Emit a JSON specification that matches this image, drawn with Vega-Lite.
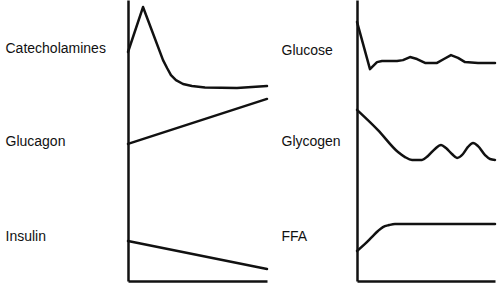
{
  "$schema": "https://vega.github.io/schema/vega-lite/v6.json",
  "padding": {"left": 5, "top": 0, "right": 0, "bottom": 4},
  "autosize": {"type": "pad"},
  "background": "white",
  "spacing": 12,
  "config": {
    "view": {"stroke": null},
    "axis": {
      "grid": false,
      "ticks": false,
      "title": null,
      "domainColor": "#111111",
      "domainWidth": 2.5,
      "labelFont": "Liberation Sans",
      "labelFontSize": 14,
      "labelColor": "#111111",
      "labelOverlap": false,
      "labelBound": false,
      "labelFlush": false
    }
  },
  "datasets": {
    "curves": [
      {"panel": "left", "series": "Catecholamines", "t": 0, "v": 81.5},
      {"panel": "left", "series": "Catecholamines", "t": 1.08, "v": 97.5},
      {"panel": "left", "series": "Catecholamines", "t": 2.52, "v": 78.6},
      {"panel": "left", "series": "Catecholamines", "t": 2.81, "v": 75.8},
      {"panel": "left", "series": "Catecholamines", "t": 3.09, "v": 73.3},
      {"panel": "left", "series": "Catecholamines", "t": 3.45, "v": 71.5},
      {"panel": "left", "series": "Catecholamines", "t": 3.96, "v": 70.1},
      {"panel": "left", "series": "Catecholamines", "t": 4.6, "v": 69.4},
      {"panel": "left", "series": "Catecholamines", "t": 5.54, "v": 68.9},
      {"panel": "left", "series": "Catecholamines", "t": 7.84, "v": 68.7},
      {"panel": "left", "series": "Catecholamines", "t": 10, "v": 69.4},
      {"panel": "left", "series": "Glucagon", "t": 0, "v": 48.8},
      {"panel": "left", "series": "Glucagon", "t": 10, "v": 64.8},
      {"panel": "left", "series": "Insulin", "t": 0, "v": 14.2},
      {"panel": "left", "series": "Insulin", "t": 10, "v": 4.3},
      {"panel": "right", "series": "Glucose", "t": 0, "v": 92.2},
      {"panel": "right", "series": "Glucose", "t": 0.94, "v": 75.4},
      {"panel": "right", "series": "Glucose", "t": 1.45, "v": 77.9},
      {"panel": "right", "series": "Glucose", "t": 1.81, "v": 78.3},
      {"panel": "right", "series": "Glucose", "t": 2.9, "v": 78.3},
      {"panel": "right", "series": "Glucose", "t": 3.33, "v": 78.6},
      {"panel": "right", "series": "Glucose", "t": 3.84, "v": 79.7},
      {"panel": "right", "series": "Glucose", "t": 4.35, "v": 79.0},
      {"panel": "right", "series": "Glucose", "t": 4.93, "v": 77.6},
      {"panel": "right", "series": "Glucose", "t": 5.8, "v": 77.6},
      {"panel": "right", "series": "Glucose", "t": 6.3, "v": 79.0},
      {"panel": "right", "series": "Glucose", "t": 6.81, "v": 80.4},
      {"panel": "right", "series": "Glucose", "t": 7.32, "v": 79.4},
      {"panel": "right", "series": "Glucose", "t": 7.83, "v": 77.9},
      {"panel": "right", "series": "Glucose", "t": 8.77, "v": 77.6},
      {"panel": "right", "series": "Glucose", "t": 10, "v": 77.6},
      {"panel": "right", "series": "Glycogen", "t": 0, "v": 60.9},
      {"panel": "right", "series": "Glycogen", "t": 1.52, "v": 53.7},
      {"panel": "right", "series": "Glycogen", "t": 2.97, "v": 45.9},
      {"panel": "right", "series": "Glycogen", "t": 3.48, "v": 44.1},
      {"panel": "right", "series": "Glycogen", "t": 3.99, "v": 43.1},
      {"panel": "right", "series": "Glycogen", "t": 4.71, "v": 43.1},
      {"panel": "right", "series": "Glycogen", "t": 5.14, "v": 44.5},
      {"panel": "right", "series": "Glycogen", "t": 5.65, "v": 47.0},
      {"panel": "right", "series": "Glycogen", "t": 6.09, "v": 48.4},
      {"panel": "right", "series": "Glycogen", "t": 6.45, "v": 47.3},
      {"panel": "right", "series": "Glycogen", "t": 6.88, "v": 45.2},
      {"panel": "right", "series": "Glycogen", "t": 7.25, "v": 43.8},
      {"panel": "right", "series": "Glycogen", "t": 7.68, "v": 45.2},
      {"panel": "right", "series": "Glycogen", "t": 8.04, "v": 47.7},
      {"panel": "right", "series": "Glycogen", "t": 8.41, "v": 49.1},
      {"panel": "right", "series": "Glycogen", "t": 8.77, "v": 48.0},
      {"panel": "right", "series": "Glycogen", "t": 9.28, "v": 44.8},
      {"panel": "right", "series": "Glycogen", "t": 9.64, "v": 43.4},
      {"panel": "right", "series": "Glycogen", "t": 10, "v": 43.1},
      {"panel": "right", "series": "FFA", "t": 0, "v": 10.7},
      {"panel": "right", "series": "FFA", "t": 0.58, "v": 13.2},
      {"panel": "right", "series": "FFA", "t": 1.09, "v": 15.7},
      {"panel": "right", "series": "FFA", "t": 1.52, "v": 17.8},
      {"panel": "right", "series": "FFA", "t": 1.88, "v": 19.2},
      {"panel": "right", "series": "FFA", "t": 2.32, "v": 19.9},
      {"panel": "right", "series": "FFA", "t": 2.75, "v": 20.3},
      {"panel": "right", "series": "FFA", "t": 10, "v": 20.3}
    ]
  },
  "hconcat": [
    {
      "width": 139,
      "height": 281,
      "data": {"name": "curves"},
      "transform": [{"filter": "datum.panel === 'left'"}],
      "mark": {"type": "line", "color": "#111111", "strokeWidth": 2.5, "strokeCap": "round", "strokeJoin": "round"},
      "encoding": {
        "x": {"field": "t", "type": "quantitative", "scale": {"domain": [0, 10], "nice": false, "zero": false},
              "axis": {"labels": false}},
        "y": {"field": "v", "type": "quantitative", "scale": {"domain": [0, 100], "nice": false},
              "axis": {"values": [82.6, 49.8, 15.7], "labelAlign": "left", "labelPadding": 123,
                       "labelExpr": "datum.value > 70 ? 'Catecholamines' : datum.value > 30 ? 'Glucagon' : 'Insulin'"}},
        "detail": {"field": "series"}
      }
    },
    {
      "width": 138,
      "height": 281,
      "data": {"name": "curves"},
      "transform": [{"filter": "datum.panel === 'right'"}],
      "encoding": {
        "x": {"field": "t", "type": "quantitative", "scale": {"domain": [0, 10], "nice": false, "zero": false},
              "axis": {"labels": false}},
        "y": {"field": "v", "type": "quantitative", "scale": {"domain": [0, 100], "nice": false},
              "axis": {"values": [82.2, 49.5, 16.0], "labelAlign": "left", "labelPadding": 76,
                       "labelExpr": "datum.value > 70 ? 'Glucose' : datum.value > 30 ? 'Glycogen' : 'FFA'"}},
        "detail": {"field": "series"}
      },
      "layer": [
        {
          "transform": [{"filter": "datum.series === 'Glucose'"}],
          "mark": {"type": "line", "color": "#111111", "strokeWidth": 2.5, "strokeCap": "round", "strokeJoin": "round"}
        },
        {
          "transform": [{"filter": "datum.series !== 'Glucose'"}],
          "mark": {"type": "line", "interpolate": "monotone", "color": "#111111", "strokeWidth": 2.5, "strokeCap": "round", "strokeJoin": "round"}
        }
      ]
    }
  ]
}
